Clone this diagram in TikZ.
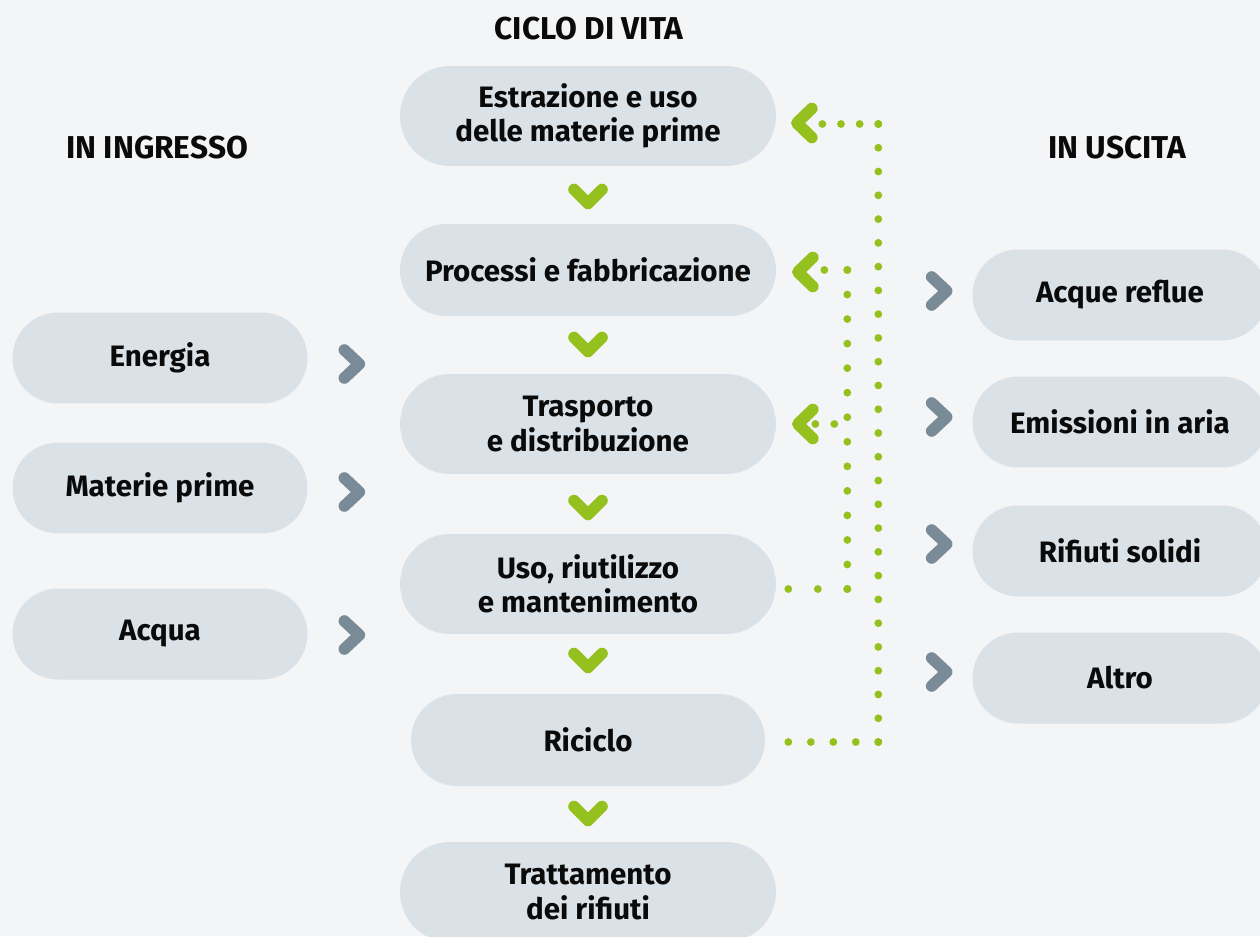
\documentclass[tikz,border=0pt]{standalone}
\usepackage{fontspec}
\setmainfont{Fira Sans}
\usetikzlibrary{shapes.misc,calc}
\definecolor{bgc}{HTML}{F4F5F7}
\definecolor{pillc}{HTML}{DAE1E7}
\definecolor{greenc}{HTML}{95C11F}
\definecolor{greyc}{HTML}{7A8B98}
\definecolor{txtc}{HTML}{0A0A0A}
\newcommand\mydots[3]{\foreach \k in {0,...,#3}{\fill[greenc] ($(#1)!{\k/#3}!(#2)$) circle (3.9);}}
\tikzset{
  pill/.style={rounded rectangle, fill=pillc, draw=none, text=txtc, font=\bfseries\fontsize{16.8}{19.4}\selectfont, align=center, inner sep=0pt},
  side/.style={pill, minimum width=5.9cm, minimum height=1.82cm},
  mid/.style={pill, minimum width=7.52cm, minimum height=2cm},
  title/.style={text=txtc, font=\bfseries\fontsize{18}{20}\selectfont},
  chevdown/.pic={\draw[greenc, line width=6.6pt, line cap=round, line join=round] (-14,-7.5) -- (0,6.5) -- (14,-7.5);},
  chevleft/.pic={\draw[greenc, line width=6.6pt, line cap=round, line join=round] (7.5,-14.5) -- (-7.5,0) -- (7.5,14.5);},
  chevright/.pic={\draw[greyc, line width=6.6pt, line cap=round, line join=round] (-7.5,-14) -- (7.5,0) -- (-7.5,14);}
}
\begin{document}
\begin{tikzpicture}[x=0.02cm, y=-0.02cm]
\fill[bgc] (0,0) rectangle (1260,936);
\useasboundingbox (0,0) rectangle (1260,936);
% titles
\node[title] (tcv) at (589,29) {CICLO DI VITA};
\node[title] (tin) at (157,148) {IN INGRESSO};
\node[title] (tout) at (1117,148) {IN USCITA};
% centre column
\node[mid] (top) at (588,116) {Estrazione e uso\\delle materie prime};
\node[mid, minimum height=1.84cm] (proc) at (588,270) {Processi e fabbricazione};
\node[mid] (tras) at (588,424) {Trasporto\\e distribuzione};
\node[mid] (uso) at (588,584) {Uso, riutilizzo\\e mantenimento};
\node[pill, minimum width=7.08cm, minimum height=1.84cm] (ric) at (588,740) {Riciclo};
\node[mid] (tratt) at (588,892) {Trattamento\\dei rifiuti};
% left column
\node[side] (en) at (160,358) {Energia};
\node[side] (mat) at (160,488) {Materie prime};
\node[side] (acq) at (160,634) {Acqua};
% right column
\node[side] (ar) at (1120,295) {Acque reflue};
\node[side] (em) at (1120,422) {Emissioni in aria};
\node[side] (rs) at (1120,551) {Rifiuti solidi};
\node[side] (al) at (1120,678) {Altro};
% down chevrons
\pic at ($(top.south)!0.5!(proc.north)+(0,2)$) {chevdown};
\pic at ($(proc.south)!0.5!(tras.north)$) {chevdown};
\pic at ($(tras.south)!0.5!(uso.north)+(0,4)$) {chevdown};
\pic at ($(uso.south)!0.5!(ric.north)-(0,3)$) {chevdown};
\pic at ($(ric.south)!0.5!(tratt.north)$) {chevdown};
% input chevrons
\pic at ($(en.east)+(44,6)$) {chevright};
\pic at ($(mat.east)+(44,4)$) {chevright};
\pic at ($(acq.east)+(44,1)$) {chevright};
% output chevrons
\pic at ($(ar.west)+(-33,-4)$) {chevright};
\pic at ($(em.west)+(-33,-5)$) {chevright};
\pic at ($(rs.west)+(-33,-7)$) {chevright};
\pic at ($(al.west)+(-33,-6)$) {chevright};
% dotted returns
\coordinate (o1) at ($(ric.east)+(23,2)$);
\coordinate (o2) at ($(ric.east)+(113,2)$);
\coordinate (o3) at (o2 |- top.east);
\coordinate (o3) at ($(o3)+(0,8)$);
\coordinate (o4) at ($(top.east)+(46,8)$);
\mydots{o1}{o2}{4}
\mydots{o2}{o3}{26}
\mydots{o3}{o4}{3}
\pic at ($(top.east)+(28,7)$) {chevleft};
\coordinate (i1) at ($(uso.east)+(12,5)$);
\coordinate (i2) at ($(uso.east)+(71,5)$);
\coordinate (i3) at (i2 |- proc.east);
\coordinate (i4) at ($(proc.east)+(48,0)$);
\mydots{i1}{i2}{2}
\mydots{i2}{i3}{13}
\mydots{i3}{i4}{1}
\pic at ($(proc.east)+(29,2)$) {chevleft};
\coordinate (b1) at ($(tras.east)+(58,0)$);
\coordinate (b2) at ($(tras.east)+(39,0)$);
\mydots{b1}{b2}{1}
\pic at ($(tras.east)+(29,0)$) {chevleft};
\end{tikzpicture}
\end{document}
